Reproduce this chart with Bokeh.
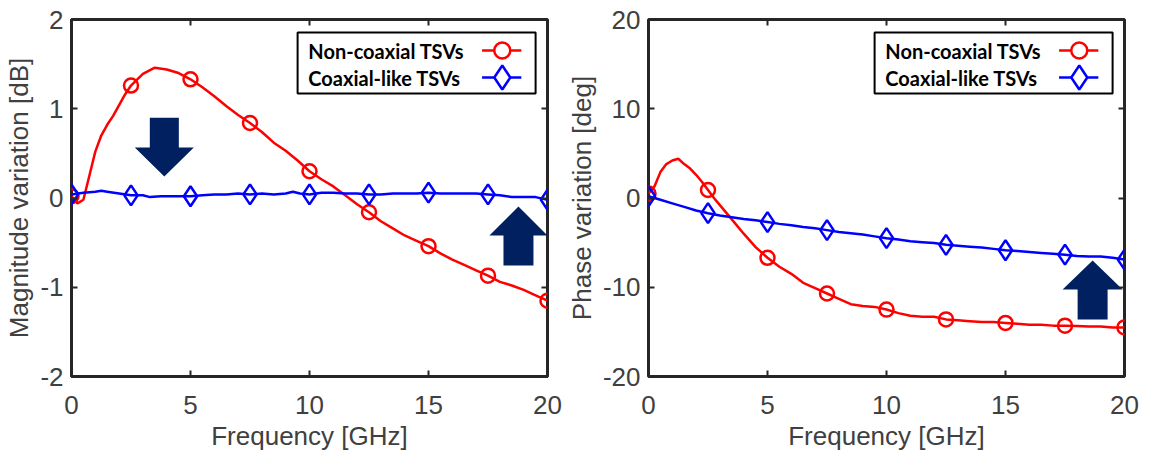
from bokeh.plotting import figure
from bokeh.layouts import row
from bokeh.models import (Range1d, LinearAxis, FixedTicker, BoxAnnotation, Label)
from bokeh.embed import file_html
from bokeh.resources import INLINE

# ---------------- data ----------------
x_ticks = [0, 5, 10, 15, 20]
mag_ticks = [-2, -1, 0, 1, 2]
phase_ticks = [-20, -10, 0, 10, 20]

series_names = ["Non-coaxial TSVs", "Coaxial-like TSVs"]

# dense traces, magnitude variation [dB]
mag_noncoax_f = [0, 0.25, 0.5, 0.75, 1.0, 1.25, 1.5, 1.75, 2.0, 2.25, 2.5, 3.0, 3.5, 4.0,
                 4.5, 5.0, 5.5, 6.0, 6.5, 7.0, 7.5, 8.0, 8.5, 9.0, 9.5, 10.0, 10.5, 11.0,
                 11.5, 12.0, 12.5, 13.0, 13.5, 14.0, 14.5, 15.0, 15.5, 16.0, 16.5, 17.0,
                 17.5, 18.0, 18.5, 19.0, 19.5, 20.0]
mag_noncoax = [0.02, -0.06, -0.02, 0.25, 0.52, 0.70, 0.82, 0.92, 1.04, 1.16, 1.26, 1.39,
               1.46, 1.44, 1.40, 1.33, 1.24, 1.14, 1.03, 0.93, 0.84, 0.74, 0.62, 0.53, 0.42,
               0.30, 0.21, 0.13, 0.03, -0.07, -0.16, -0.26, -0.34, -0.42, -0.48, -0.54,
               -0.62, -0.69, -0.75, -0.81, -0.87, -0.94, -0.98, -1.03, -1.09, -1.15]

mag_coax_f = [0, 0.5, 1.0, 1.25, 1.5, 2.0, 2.5, 3.0, 3.3, 3.75, 4.25, 5.0, 5.5, 6.0, 6.5,
              7.0, 7.5, 8.0, 8.5, 9.0, 9.3, 9.6, 10.0, 10.5, 11.0, 11.5, 12.0, 12.5, 13.0,
              13.5, 14.0, 14.5, 15.0, 15.5, 16.0, 16.5, 17.0, 17.5, 18.0, 18.5, 19.0, 19.5,
              20.0]
mag_coax = [0.04, 0.06, 0.07, 0.08, 0.07, 0.05, 0.03, 0.03, 0.01, 0.02, 0.02, 0.02, 0.03,
            0.04, 0.04, 0.05, 0.04, 0.05, 0.04, 0.05, 0.07, 0.05, 0.04, 0.06, 0.06, 0.05,
            0.05, 0.04, 0.04, 0.05, 0.05, 0.05, 0.06, 0.05, 0.05, 0.05, 0.05, 0.04, 0.03,
            0.01, 0.01, 0.01, -0.02]

# dense traces, phase variation [deg]
phase_noncoax_f = [0, 0.25, 0.5, 0.75, 1.0, 1.25, 1.5, 1.75, 2.0, 2.25, 2.5, 2.75, 3.0, 3.5,
                   4.0, 4.5, 5.0, 5.5, 6.0, 6.5, 7.0, 7.5, 8.0, 8.5, 9.0, 9.5, 10.0, 10.5,
                   11.0, 11.5, 12.0, 12.5, 13.0, 13.5, 14.0, 14.5, 15.0, 15.5, 16.0, 16.5,
                   17.0, 17.5, 18.0, 18.5, 19.0, 19.5, 20.0]
phase_noncoax = [0.5, 1.3, 2.9, 3.8, 4.2, 4.4, 3.8, 3.3, 2.6, 1.8, 0.9, 0.0, -0.8, -2.4,
                 -4.0, -5.5, -6.7, -7.7, -8.5, -9.5, -10.1, -10.7, -11.3, -11.9, -12.1,
                 -12.2, -12.5, -12.9, -13.2, -13.3, -13.3, -13.6, -13.7, -13.8, -13.9,
                 -13.9, -14.0, -14.1, -14.2, -14.2, -14.3, -14.3, -14.35, -14.4, -14.4,
                 -14.5, -14.5]

phase_coax_f = [0, 0.5, 1.0, 1.5, 2.0, 2.5, 3.0, 3.5, 4.0, 4.5, 5.0, 5.5, 6.0, 6.5, 7.0,
                7.5, 8.0, 8.5, 9.0, 9.5, 10.0, 10.5, 11.0, 11.5, 12.0, 12.5, 13.0, 13.5,
                14.0, 14.5, 15.0, 15.5, 16.0, 16.5, 17.0, 17.5, 18.0, 18.5, 19.0, 19.5, 20.0]
phase_coax = [0.2, -0.2, -0.6, -1.0, -1.4, -1.7, -1.95, -2.15, -2.35, -2.5, -2.7, -2.9,
              -3.05, -3.25, -3.4, -3.6, -3.8, -3.95, -4.1, -4.3, -4.5, -4.65, -4.85, -4.95,
              -5.05, -5.25, -5.35, -5.45, -5.55, -5.7, -5.85, -5.95, -6.05, -6.15, -6.25,
              -6.35, -6.5, -6.55, -6.55, -6.7, -6.9]

# marker positions (every 2.5 GHz)
marker_f = [0, 2.5, 5, 7.5, 10, 12.5, 15, 17.5, 20]
mag_noncoax_mk = [0.02, 1.26, 1.33, 0.84, 0.30, -0.16, -0.54, -0.87, -1.15]
mag_coax_mk = [0.04, 0.03, 0.02, 0.04, 0.04, 0.04, 0.06, 0.04, -0.02]
phase_noncoax_mk = [0.5, 0.9, -6.7, -10.7, -12.5, -13.6, -14.0, -14.3, -14.5]
phase_coax_mk = [0.2, -1.7, -2.7, -3.6, -4.5, -5.25, -5.85, -6.35, -6.9]

# ---------------- styling ----------------
RED = "#ff0000"
BLUE = "#0000ff"
NAVY = "#002060"
FRAME = "#262626"
TEXT = "#404040"
TICK_FONT = "Liberation Sans"
LEGEND_FONT = "Lato"


def block_arrow(xc, shaft_half, head_half, tail, head_base, tip):
    """Polygon outline of a block arrow pointing along y (data units)."""
    xs = [xc - shaft_half, xc + shaft_half, xc + shaft_half, xc + head_half, xc,
          xc - head_half, xc - shaft_half]
    ys = [tail, tail, head_base, head_base, tip, head_base, head_base]
    return xs, ys


def plain_labels(ticks):
    # ASCII hyphen for negative numbers
    return {t: str(t) for t in ticks}


def make_panel(width, border_left, border_right, y_lo, y_hi, y_ticks, y_label):
    p = figure(width=width, height=458, output_backend="svg", toolbar_location=None,
               x_range=Range1d(0, 20), y_range=Range1d(y_lo, y_hi),
               min_border_left=border_left, min_border_right=border_right,
               min_border_top=19, min_border_bottom=82)
    p.grid.visible = False
    p.outline_line_color = FRAME
    p.outline_line_width = 3
    p.background_fill_color = "white"
    p.border_fill_color = "white"

    for ax in (p.xaxis[0], p.yaxis[0]):
        ax.axis_line_color = None
        ax.major_tick_in = 6
        ax.major_tick_out = 0
        ax.minor_tick_line_color = None
        ax.major_tick_line_color = FRAME
        ax.major_tick_line_width = 2
        ax.major_label_text_font = TICK_FONT
        ax.major_label_text_font_size = "26px"
        ax.major_label_text_color = TEXT
        ax.axis_label_text_font = TICK_FONT
        ax.axis_label_text_font_size = "26px"
        ax.axis_label_text_color = TEXT
        ax.axis_label_text_font_style = "normal"

    p.xaxis[0].ticker = FixedTicker(ticks=x_ticks)
    p.yaxis[0].ticker = FixedTicker(ticks=y_ticks)
    p.xaxis[0].major_label_overrides = plain_labels(x_ticks)
    p.yaxis[0].major_label_overrides = plain_labels(y_ticks)
    p.xaxis[0].axis_label = "Frequency [GHz]"
    p.yaxis[0].axis_label = y_label
    p.xaxis[0].major_label_standoff = 19
    p.xaxis[0].axis_label_standoff = 4
    p.yaxis[0].major_label_standoff = 8
    p.yaxis[0].axis_label_standoff = 3

    # mirrored tick marks on top and right edges of the box
    top = LinearAxis(ticker=FixedTicker(ticks=x_ticks))
    right = LinearAxis(ticker=FixedTicker(ticks=y_ticks))
    for ax in (top, right):
        ax.axis_line_color = None
        ax.major_tick_in = 6
        ax.major_tick_out = 0
        ax.minor_tick_line_color = None
        ax.major_tick_line_color = FRAME
        ax.major_tick_line_width = 2
        ax.major_label_text_font_size = "1px"
        ax.major_label_text_color = None
        ax.major_label_standoff = 0
    p.add_layout(top, "above")
    p.add_layout(right, "right")
    return p


def draw_series(p, f, v, mf, mv, color, marker, size):
    p.line(f, v, line_color=color, line_width=2.5)
    p.scatter(mf, mv, marker=marker, size=size, fill_color=None,
              line_color=color, line_width=2.5)


def draw_legend(p, y_lo, y_hi):
    span = y_hi - y_lo
    # legend box (fractions of the axes box)
    box = BoxAnnotation(left=9.5, right=19.5, top=y_lo + span * 0.9635,
                        bottom=y_lo + span * 0.7925, fill_color="white", fill_alpha=1.0,
                        line_color="black", line_width=2, line_alpha=1.0)
    p.add_layout(box)
    rows_y = [y_lo + span * 0.913, y_lo + span * 0.8375]
    styles = [(RED, "circle", 16), (BLUE, "diamond", 24)]
    for name, yy, (color, marker, size) in zip(series_names, rows_y, styles):
        p.add_layout(Label(x=9.95, y=yy, text=name, text_font=LEGEND_FONT,
                           text_font_style="bold", text_font_size="20px",
                           text_color="black", text_baseline="middle"))
        p.line([17.25, 18.9], [yy, yy], line_color=color, line_width=2.5, level="overlay")
        p.scatter([18.1], [yy], marker=marker, size=size, fill_color="white",
                  line_color=color, line_width=2.5, level="overlay")


# ---------------- magnitude panel ----------------
p1 = make_panel(563, 71, 16, -2, 2, mag_ticks, "Magnitude variation [dB]")
draw_series(p1, mag_noncoax_f, mag_noncoax, marker_f, mag_noncoax_mk, RED, "circle", 14)
draw_series(p1, mag_coax_f, mag_coax, marker_f, mag_coax_mk, BLUE, "diamond", 20)
ax_, ay_ = block_arrow(3.9, 0.61, 1.24, 0.90, 0.566, 0.24)
p1.patch(ax_, ay_, fill_color=NAVY, line_color=None)
ax_, ay_ = block_arrow(18.78, 0.63, 1.22, -0.756, -0.42, -0.095)
p1.patch(ax_, ay_, fill_color=NAVY, line_color=None)
draw_legend(p1, -2, 2)

# ---------------- phase panel ----------------
p2 = make_panel(587, 85, 26, -20, 20, phase_ticks, "Phase variation [deg]")
draw_series(p2, phase_noncoax_f, phase_noncoax, marker_f, phase_noncoax_mk, RED, "circle", 14)
draw_series(p2, phase_coax_f, phase_coax, marker_f, phase_coax_mk, BLUE, "diamond", 20)
ax_, ay_ = block_arrow(18.66, 0.63, 1.26, -13.6, -10.25, -7.0)
p2.patch(ax_, ay_, fill_color=NAVY, line_color=None)
draw_legend(p2, -20, 20)

layout = row(p1, p2)
open("out.html", "w").write(file_html(layout, INLINE))
